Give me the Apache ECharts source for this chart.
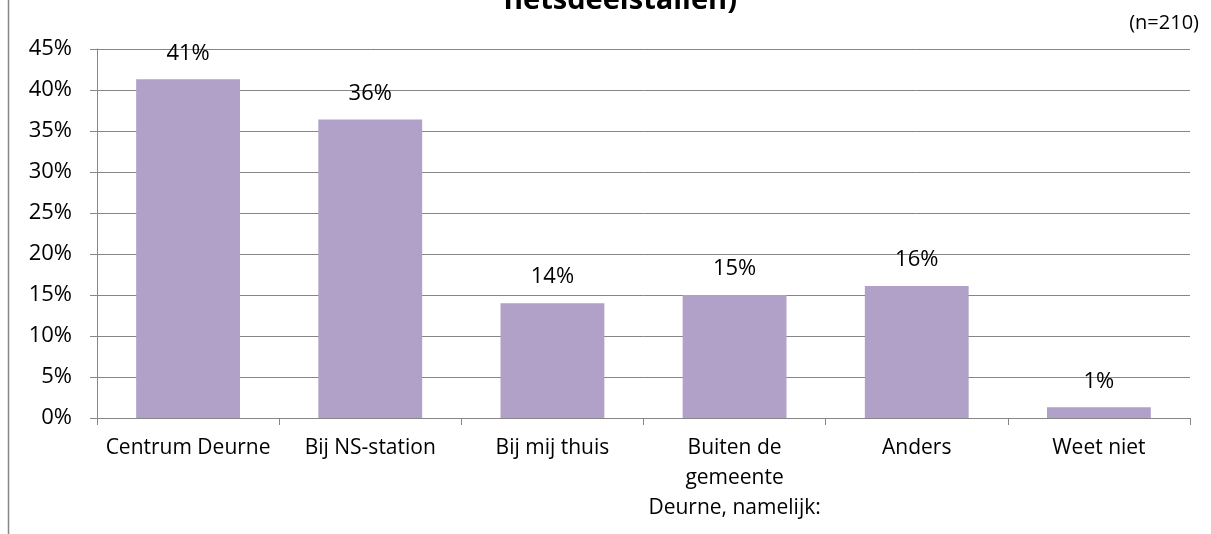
<!DOCTYPE html>
<html><head><meta charset="utf-8">
<script src="https://cdn.jsdelivr.net/npm/echarts@6/dist/echarts.min.js"></script>
<style>html,body{margin:0;padding:0;background:#fff}#c{width:1211px;height:534px}</style>
</head><body><div id="c"></div>
<script>
const categories = ['Centrum Deurne', 'Bij NS-station', 'Bij mij thuis', 'Buiten de\ngemeente\nDeurne, namelijk:', 'Anders', 'Weet niet'];
const values = [41.3, 36.4, 14.0, 15.0, 16.1, 1.3];
const valueLabels = ['41%', '36%', '14%', '15%', '16%', '1%'];
const yTicks = [0, 5, 10, 15, 20, 25, 30, 35, 40, 45];
const titleText = 'fietsdeelstallen)';
const noteText = '(n=210)';

const FONT = '"Open Sans", sans-serif';
const chart = echarts.init(document.getElementById('c'));
chart.setOption({
  animation: false,
  title: { text: titleText, left: 615, textAlign: 'center', top: -19,
    textStyle: { fontFamily: FONT, fontWeight: 'bold', fontSize: 29, color: '#000' } },
  grid: { left: 97, right: 21, top: 49, bottom: 116, containLabel: false },
  graphic: [
    { type: 'line', shape: { x1: 8.5, y1: 0, x2: 8.5, y2: 534 }, style: { stroke: '#868686', lineWidth: 1.5 } },
    { type: 'text', right: 12, top: 13, style: { text: noteText, fontFamily: FONT, fontSize: 20, fill: '#000' } }
  ],
  xAxis: {
    type: 'category', data: categories,
    axisLine: { lineStyle: { color: '#868686', width: 1 } },
    axisTick: { show: true, alignWithLabel: false, length: 7, lineStyle: { color: '#868686' } },
    axisLabel: { fontFamily: FONT, fontSize: 21, color: '#000', margin: 15, lineHeight: 30, interval: 0 }
  },
  yAxis: {
    type: 'value', min: 0, max: 45, interval: 5,
    axisLine: { show: true, lineStyle: { color: '#868686' } },
    axisTick: { show: true, length: 7, inside: false, lineStyle: { color: '#868686' } },
    splitLine: { lineStyle: { color: '#868686', width: 1 } },
    axisLabel: { fontFamily: FONT, fontSize: 22, color: '#000', margin: 25,
      formatter: v => yTicks.includes(v) ? v + '%' : '' }
  },
  series: [{
    type: 'bar', data: values, barCategoryGap: '43%',
    itemStyle: { color: '#B1A0C7' },
    label: { show: true, position: 'top', distance: 15, fontFamily: FONT, fontSize: 22, color: '#000',
      formatter: p => valueLabels[p.dataIndex] }
  }]
});
</script></body></html>
